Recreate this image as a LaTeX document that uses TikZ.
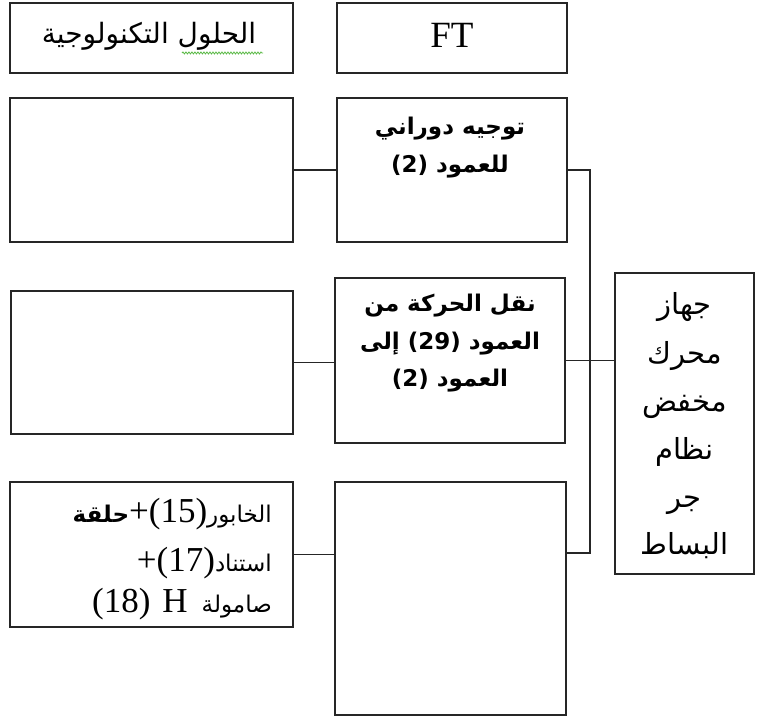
\documentclass[tikz,border=0pt]{standalone}
\usepackage{fontspec}
\usetikzlibrary{decorations.pathmorphing}
\TeXXeTstate=1
\newfontfamily\arb[Script=Arabic]{DejaVu Sans}
\newfontfamily\tms{Liberation Serif}
\newcommand{\tmsn}[1]{{\tms\fontsize{35}{40}\selectfont #1}}
\tikzset{
  box/.style={draw=black!85, line width=1.3pt, inner sep=0pt, rectangle},
  conn/.style={draw=black!85, line width=1.1pt},
  midtxt/.style={anchor=base, inner sep=0pt, font=\arb\bfseries\fontsize{23}{28}\selectfont},
  rtxt/.style={anchor=base, inner sep=0pt, font=\arb\fontsize{29}{34}\selectfont},
  bltxt/.style={anchor=base east, inner sep=0pt, font=\arb\fontsize{23}{28}\selectfont},
}
\begin{document}
\begin{tikzpicture}[x=1pt,y=-1pt]
\useasboundingbox (0,0) rectangle (763,719);
% header row
\node[box, minimum width=283pt, minimum height=70pt] (hL) at (151.5,38) {};
\node[box, minimum width=230pt, minimum height=70pt] (hFT) at (452,38) {};
\node[anchor=base, inner sep=0pt, font=\arb\fontsize{28}{32}\selectfont] (hLt) at (149,44) {\beginR الحلول التكنولوجية\endR};
\node[anchor=base, inner sep=0pt, font=\tms\fontsize{37}{40}\selectfont] (hFTt) at (452,48) {FT};
\draw[draw={rgb,255:red,90;green,185;blue,70}, line width=0.8pt, decorate, decoration={snake, amplitude=1pt, segment length=3pt}] (182,53) -- (263,53);
% left column
\node[box, minimum width=283pt, minimum height=144pt] (L1) at (151.5,170) {};
\node[box, minimum width=282pt, minimum height=143pt] (L2) at (152,362.5) {};
\node[box, minimum width=283pt, minimum height=145pt] (L3) at (151.5,554.5) {};
\node[bltxt] (L3a) at (272,522) {\beginR الخابور\beginL\tmsn{(15)}\endL\tmsn{+}{\bfseries حلقة}\endR};
\node[bltxt] (L3b) at (272,571) {\beginR استناد\beginL\tmsn{(17)}\endL\tmsn{+}\endR};
\node[bltxt] (L3c) at (272,612) {\beginR صامولة\hspace{14pt}\beginL\tmsn{H}\endL\hspace{12pt}\beginL\tmsn{(18)}\endL\endR};
% middle column
\node[box, minimum width=230pt, minimum height=144pt] (M1) at (452,170) {};
\node[box, minimum width=230pt, minimum height=165pt] (M2) at (450,360.5) {};
\node[box, minimum width=231pt, minimum height=233pt] (M3) at (450.5,598.5) {};
\node[midtxt] (M1a) at (450,135) {\beginR توجيه دوراني\endR};
\node[midtxt] (M1b) at (450,173) {\beginR للعمود \beginL(2)\endL\endR};
\node[midtxt] (M2a) at (450,312) {\beginR نقل الحركة من\endR};
\node[midtxt] (M2b) at (450,349) {\beginR العمود \beginL(29)\endL{} إلى\endR};
\node[midtxt] (M2c) at (450,386) {\beginR العمود \beginL(2)\endL\endR};
% right box
\node[box, minimum width=139pt, minimum height=301pt] (R) at (684.5,423.5) {};
\node[rtxt] (Ra) at (684.5,315) {\beginR جهاز\endR};
\node[rtxt] (Rb) at (684.5,363) {\beginR محرك\endR};
\node[rtxt] (Rc) at (684.5,411) {\beginR مخفض\endR};
\node[rtxt] (Rd) at (684.5,459) {\beginR نظام\endR};
\node[rtxt] (Re) at (684.5,507) {\beginR جر\endR};
\node[rtxt] (Rf) at (684.5,554) {\beginR البساط\endR};
% connectors
\coordinate (t1) at (590,170);
\coordinate (t3) at (590,553);
\draw[conn] (L1.east) -- (M1.west);
\draw[conn] (L2.east) -- (L2.east -| M2.west);
\draw[conn] (L3.east) -- (L3.east -| M3.west);
\draw[conn] (M1.east) -- (t1) -- (t3) -- (t3 -| M3.east);
\draw[conn] (M2.east) -- (M2.east -| t1);
\draw[conn] (t1 |- M2.east) -- (M2.east -| R.west);
\end{tikzpicture}
\end{document}
